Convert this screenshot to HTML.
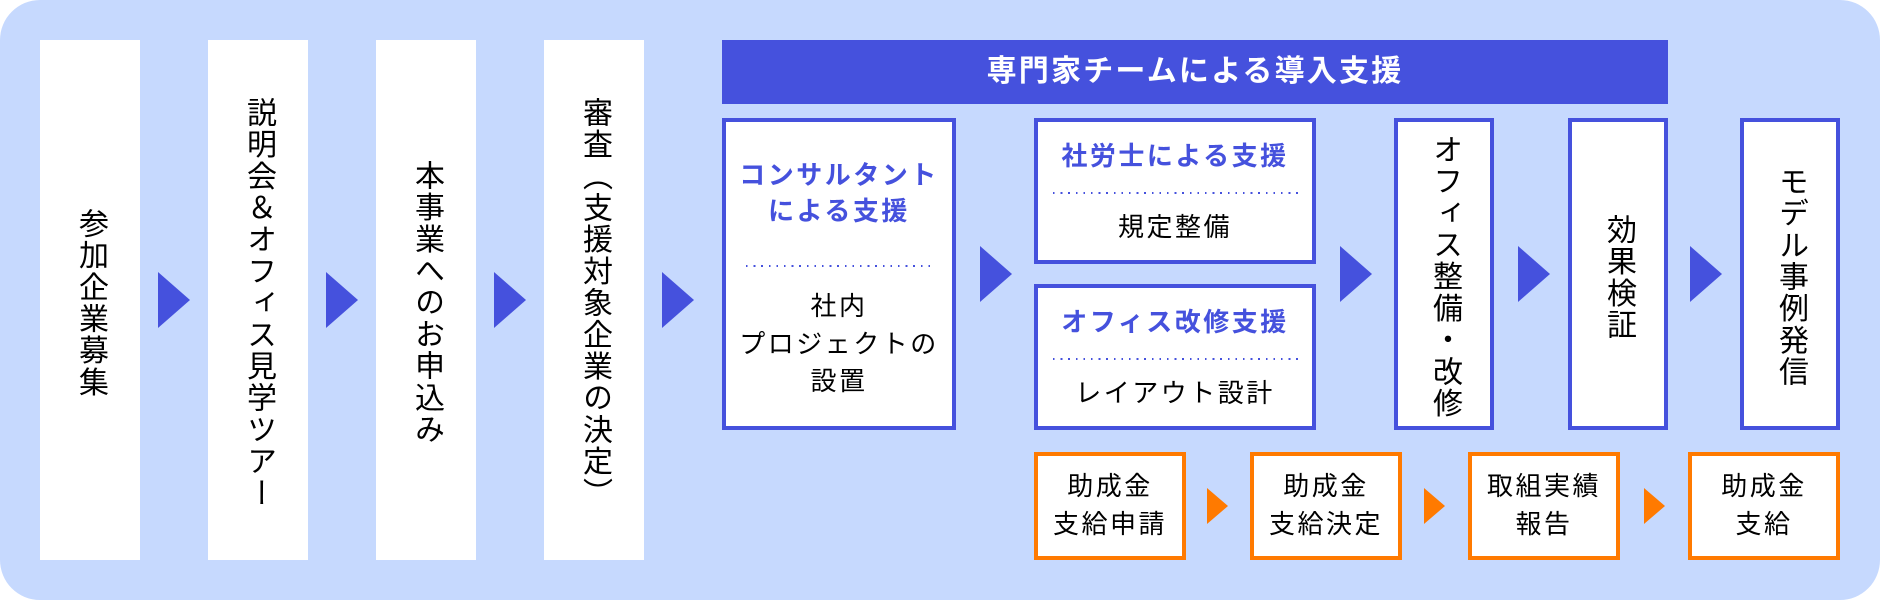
<!DOCTYPE html>
<html lang="ja">
<head>
<meta charset="utf-8">
<style>
  html, body { margin:0; padding:0; }
  body { width:1880px; height:601px; background:#ffffff; position:relative; overflow:hidden;
         font-family:"Liberation Sans","Noto Sans CJK JP",sans-serif; color:#000; }
  .bg { position:absolute; left:0; top:0; width:1880px; height:600px; border-radius:40px; background:#c6d9fe; }
  .col { position:absolute; top:40px; width:100px; height:520px; background:#fff;
         display:flex; align-items:center; justify-content:center; }
  .vt { writing-mode:vertical-rl; font-size:30px; letter-spacing:1.7px; line-height:1; position:relative; top:3px; white-space:nowrap; }
  .arrow { position:absolute; width:0; height:0; border-top:28px solid transparent; border-bottom:28px solid transparent; border-left:32px solid #4551dd; }
  .oarrow { position:absolute; width:0; height:0; border-top:18px solid transparent; border-bottom:18px solid transparent; border-left:21px solid #ff7a00; }
  .header { position:absolute; left:722px; top:40px; width:946px; height:64px; background:#4551dd; color:#fff;
            font-weight:700; font-size:30px; letter-spacing:2.2px; line-height:64px; text-align:center; }
  .bbox { position:absolute; box-sizing:border-box; border:4px solid #4551dd; background:#fff; }
  .obox { position:absolute; box-sizing:border-box; border:4px solid #ff7a00; background:#fff; }
  .vbox { display:flex; align-items:center; justify-content:center; }
  .t { position:absolute; left:0; right:0; text-align:center; font-size:26px; letter-spacing:2.5px; white-space:nowrap; }
  .blue { color:#4551dd; font-weight:700; }
  .dots { position:absolute; height:2px; background-image:repeating-linear-gradient(90deg,#4551dd 0,#4551dd 1.7px,transparent 1.7px,transparent 7.6px); }
</style>
</head>
<body>
<div class="bg"></div>

<!-- left columns -->
<div class="col" style="left:40px;"><span class="vt">参加企業募集</span></div>
<div class="col" style="left:208px;"><span class="vt">説明会＆オフィス見学ツアー</span></div>
<div class="col" style="left:376px;"><span class="vt">本事業へのお申込み</span></div>
<div class="col" style="left:544px;"><span class="vt">審査（支援対象企業の決定）</span></div>

<div class="arrow" style="left:158px; top:272px;"></div>
<div class="arrow" style="left:326px; top:272px;"></div>
<div class="arrow" style="left:494px; top:272px;"></div>
<div class="arrow" style="left:662px; top:272px;"></div>

<!-- header -->
<div class="header">専門家チームによる導入支援</div>

<!-- consultant box -->
<div class="bbox" style="left:722px; top:118px; width:234px; height:312px;"></div>
<div class="t blue" style="left:722px; width:234px; top:157px; line-height:36px;">コンサルタント<br>による支援</div>
<div class="dots" style="left:746px; top:265px; width:188px;"></div>
<div class="t" style="left:722px; width:234px; top:288px; line-height:37.5px;">社内<br>プロジェクトの<br>設置</div>

<div class="arrow" style="left:980px; top:246px;"></div>

<!-- 社労士 box -->
<div class="bbox" style="left:1034px; top:118px; width:282px; height:146px;"></div>
<div class="t blue" style="left:1034px; width:282px; top:138px; line-height:36px;">社労士による支援</div>
<div class="dots" style="left:1053px; top:192px; width:246px;"></div>
<div class="t" style="left:1034px; width:282px; top:209px; line-height:36px;">規定整備</div>

<!-- オフィス改修 box -->
<div class="bbox" style="left:1034px; top:284px; width:282px; height:146px;"></div>
<div class="t blue" style="left:1034px; width:282px; top:304px; line-height:36px;">オフィス改修支援</div>
<div class="dots" style="left:1053px; top:358px; width:246px;"></div>
<div class="t" style="left:1034px; width:282px; top:375px; line-height:36px;">レイアウト設計</div>

<div class="arrow" style="left:1340px; top:246px;"></div>

<div class="bbox vbox" style="left:1394px; top:118px; width:100px; height:312px;"><span class="vt">オフィス整備・改修</span></div>

<div class="arrow" style="left:1518px; top:246px;"></div>

<div class="bbox vbox" style="left:1568px; top:118px; width:100px; height:312px;"><span class="vt">効果検証</span></div>

<div class="arrow" style="left:1690px; top:246px;"></div>

<div class="bbox vbox" style="left:1740px; top:118px; width:100px; height:312px;"><span class="vt">モデル事例発信</span></div>

<!-- orange row -->
<div class="obox" style="left:1034px; top:452px; width:152px; height:108px;"></div>
<div class="t" style="left:1034px; width:152px; top:468px; line-height:37.5px;">助成金<br>支給申請</div>

<div class="oarrow" style="left:1207px; top:488px;"></div>

<div class="obox" style="left:1250px; top:452px; width:152px; height:108px;"></div>
<div class="t" style="left:1250px; width:152px; top:468px; line-height:37.5px;">助成金<br>支給決定</div>

<div class="oarrow" style="left:1424px; top:488px;"></div>

<div class="obox" style="left:1468px; top:452px; width:152px; height:108px;"></div>
<div class="t" style="left:1468px; width:152px; top:468px; line-height:37.5px;">取組実績<br>報告</div>

<div class="oarrow" style="left:1644px; top:488px;"></div>

<div class="obox" style="left:1688px; top:452px; width:152px; height:108px;"></div>
<div class="t" style="left:1688px; width:152px; top:468px; line-height:37.5px;">助成金<br>支給</div>

</body>
</html>
